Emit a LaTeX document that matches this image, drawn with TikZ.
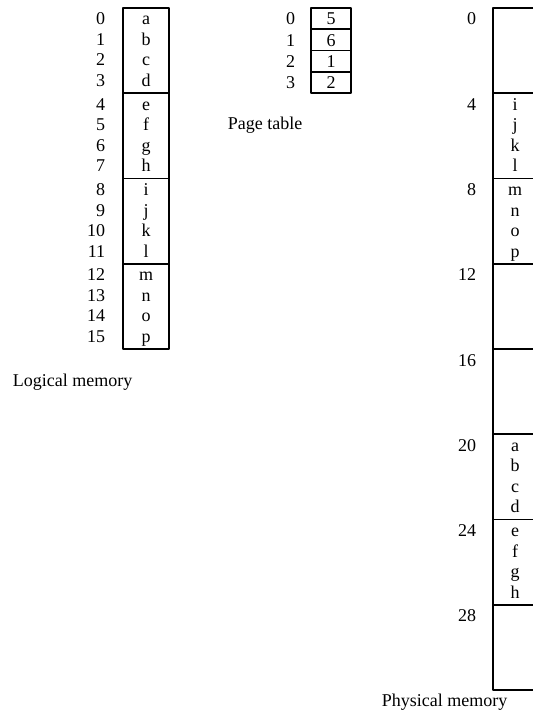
\documentclass[tikz,border=0pt]{standalone}
\usepackage{fontspec}
\setmainfont{Liberation Serif}
\begin{document}
\begin{tikzpicture}[x=1pt, y=-1pt, line join=round, line width=1.8pt,
    font=\fontsize{18}{20}\selectfont,
    txt/.style={inner sep=0pt, anchor=base}]
    \useasboundingbox (0,0) rectangle (533,711);
    \def\B{85.25} % chiều cao một khung (4 dòng)
    \def\h{21.3}
    % Logical memory
    \draw (123,8) rectangle (169,8+4*\B);
    \foreach \k in {1,2,3}\draw (123,8+\k*\B) -- (169,8+\k*\B);
    \foreach \c [count=\i from 0] in {a,b,c,d,e,f,g,h,i,j,k,l,m,n,o,p}{
        \pgfmathsetmacro\y{25+\B*int(\i/4)+20.5*mod(\i,4)}
        \node[txt] (lm\i) at (146,\y) {\c};
        \node[txt, anchor=base east] (ln\i) at (106,\y) {\i};
    }
    \node[txt, anchor=base west] (lcap) at (12,386) {Logical memory};
    % Page table
    \draw (311,8) rectangle (351,8+4*\h);
    \foreach \k in {1,2,3}\draw (311,8+\k*\h) -- (351,8+\k*\h);
    \foreach \f [count=\i from 0] in {5,6,1,2}{
        \node[txt] (pt\i) at (331,24.8+\i*\h) {\f};
        \node[txt, anchor=base east] (pn\i) at (296,24.8+\i*\h) {\i};
    }
    \node[txt, anchor=base west] (pcap) at (227,130) {Page table};
    % Physical memory
    \draw (533,8) -- (493,8) -- (493,8+8*\B) -- (533,8+8*\B);
    \foreach \k in {1,...,7}\draw (493,8+\k*\B) -- (533,8+\k*\B);
    \foreach \k in {0,...,7}{
        \pgfmathtruncatemacro\a{4*\k}
        \node[txt, anchor=base east] (fn\k) at (477,25+\k*\B) {\a};
    }
    \foreach \c/\r in {i/4,j/5,k/6,l/7,m/8,n/9,o/10,p/11,a/20,b/21,c/22,d/23,e/24,f/25,g/26,h/27}{
        \pgfmathsetmacro\y{25+\B*int(\r/4)+20.5*mod(\r,4)}
        \node[txt] (fm\r) at (515,\y) {\c};
    }
    \node[txt, anchor=base west] (fcap) at (381,706) {Physical memory};
\end{tikzpicture}
\end{document}
